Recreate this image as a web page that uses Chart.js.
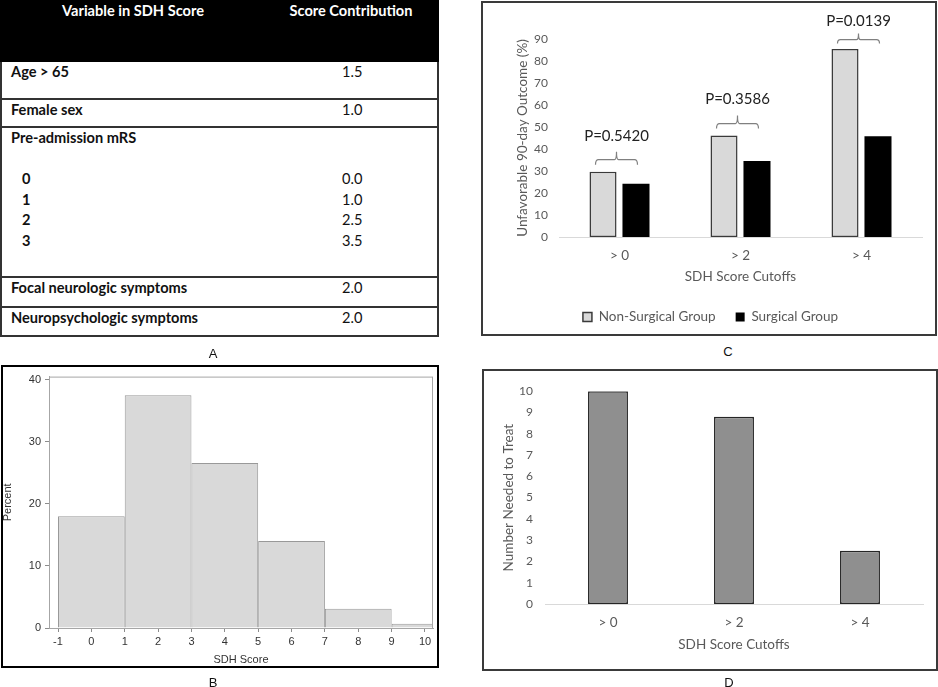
<!DOCTYPE html>
<html lang="en">
<head>
<meta charset="UTF-8">
<title>SDH Score</title>
<script src="https://cdn.jsdelivr.net/npm/chart.js"></script>
<style>
    * { margin: 0; padding: 0; box-sizing: border-box; }
    body { width: 938px; height: 687px; background: #fff; position: relative; overflow: hidden; font-family: Lato, "Open Sans", sans-serif; }
    canvas { position: absolute; }
    .caixa { position: absolute; border: 2px solid #3a3a3a; pointer-events: none; }
    .letra { position: absolute; transform: translate(-50%, -50%); font: 13px "Liberation Sans", Arial, sans-serif; color: #111; }

    /* tabela do painel A */
    #tabela { position: absolute; left: 0; top: 0; width: 439px; }
    .cab { height: 62px; background: #000; color: #fff; font-weight: bold; font-size: 14.6px; display: flex; }
    .linha { display: flex; border: 2px solid #333; border-top: none; font-size: 14.6px; color: #111; line-height: 20.5px; }
    .c1 { width: 266px; padding-left: 9px; font-weight: bold; }
    .c2 { width: 170px; text-align: center; }
    .cab .c1 { padding-left: 0; text-align: center; padding-top: 2px; }
    .cab .c2 { padding-top: 2px; }
    .sub { padding-left: 11px; }
</style>
</head>
<body>
<div id="tabela"></div>

<canvas id="histograma" width="438" height="301" style="left:0px; top:366px;"></canvas>
<canvas id="desfecho" width="450" height="332" style="left:484px; top:4px;"></canvas>
<canvas id="nnt" width="451" height="296" style="left:484px; top:372px;"></canvas>

<div class="caixa" style="left:1px; top:365px; width:438px; height:303px; border-color:#000;"></div>
<div class="caixa" style="left:481px; top:1px; width:456px; height:335px;"></div>
<div class="caixa" style="left:482px; top:369px; width:456px; height:302px;"></div>

<div class="letra" style="left:213px; top:353px;">A</div>
<div class="letra" style="left:213px; top:682px;">B</div>
<div class="letra" style="left:728px; top:351px;">C</div>
<div class="letra" style="left:729px; top:682px;">D</div>

<script>
// ---- painel A: tabela do escore
const variaveis = ['Age > 65', 'Female sex', 'Pre-admission mRS', 'Focal neurologic symptoms', 'Neuropsychologic symptoms'];
const pontos = ['1.5', '1.0', '', '2.0', '2.0'];
const mrsNiveis = ['0', '1', '2', '3'];
const mrsPontos = ['0.0', '1.0', '2.5', '3.5'];
const alturasLinha = [38, 28, 150, 30, 29];

// ---- painel B: histograma
const histCentros = [0, 2, 4, 6, 8, 10];
const histPercent = [18.0, 37.5, 26.6, 14.0, 3.1, 0.7];
const histTicksX = [-1, 0, 1, 2, 3, 4, 5, 6, 7, 8, 9, 10];
const histTicksY = [0, 10, 20, 30, 40];

// ---- painel C: desfecho desfavoravel
const cortes = ['> 0', '> 2', '> 4'];
const naoCirurgico = [29.7, 46.1, 85.5];
const cirurgico = [24.2, 34.5, 45.8];
const pValores = ['P=0.5420', 'P=0.3586', 'P=0.0139'];

// ---- painel D: numero necessario para tratar
const nntValores = [10, 8.8, 2.5];

// monta a tabela
let html = '<div class="cab"><div class="c1">Variable in SDH Score</div><div class="c2">Score Contribution</div></div>';
variaveis.forEach((v, i) => {
    let esq = v, dir = pontos[i];
    if (v === 'Pre-admission mRS') {
        esq = v + '<br>&nbsp;' + mrsNiveis.map(n => '<br><span class="sub">' + n + '</span>').join('');
        dir = '<br><br>' + mrsPontos.join('<br>');
    }
    html += `<div class="linha" style="height:${alturasLinha[i]}px;"><div class="c1">${esq}</div><div class="c2">${dir}</div></div>`;
});
document.getElementById('tabela').innerHTML = html;

const fonteC = 'Lato';
const cinza = '#595959';

// moldura cinza em volta da area do grafico (estilo SAS)
const moldura = {
    id: 'moldura',
    afterDatasetsDraw(chart) {
        const a = chart.chartArea, ctx = chart.ctx;
        ctx.save();
        ctx.strokeStyle = '#a6a6a6';
        ctx.lineWidth = 1;
        ctx.strokeRect(a.left + 0.5, a.top + 0.5, a.right - a.left - 1, a.bottom - a.top);
        ctx.restore();
    }
};

new Chart(document.getElementById('histograma'), {
    type: 'bar',
    data: {
        datasets: [{
            data: histCentros.map((x, i) => ({ x: x, y: histPercent[i] })),
            backgroundColor: '#d9d9d9',
            borderColor: '#999999',
            borderWidth: 1,
            categoryPercentage: 1,
            barPercentage: 2, // a largura minima vem do espacamento dos ticks (1), a classe tem 2
            clip: 0
        }]
    },
    options: {
        responsive: false,
        animation: false,
        devicePixelRatio: 1,
        layout: { padding: { top: 8, right: 5, left: 0, bottom: 0 } },
        plugins: { legend: { display: false }, tooltip: { enabled: false } },
        scales: {
            x: {
                type: 'linear', min: -1.27, max: 10.24, offset: false,
                afterBuildTicks: s => { s.ticks = histTicksX.map(v => ({ value: v })); },
                afterFit: s => { s.height = 39; },
                grid: { drawOnChartArea: false, drawTicks: true, tickLength: 4, color: '#8c8c8c', offset: false },
                border: { display: true, color: '#a6a6a6' },
                ticks: { padding: 3, autoSkip: false, maxRotation: 0, color: '#333', font: { family: 'Liberation Sans', size: 11 } },
                title: { display: true, text: 'SDH Score', color: '#333', padding: 0, font: { family: 'Liberation Sans', size: 11 } }
            },
            y: {
                min: 0, max: 40.5,
                afterBuildTicks: s => { s.ticks = histTicksY.map(v => ({ value: v })); },
                afterFit: s => { s.width = 49; },
                grid: { drawOnChartArea: false, drawTicks: true, tickLength: 4, color: '#8c8c8c' },
                border: { display: true, color: '#a6a6a6' },
                ticks: { padding: 4, color: '#333', font: { family: 'Liberation Sans', size: 11 } },
                title: { display: true, text: 'Percent', color: '#333', padding: { top: 1.5, bottom: 0 }, font: { family: 'Liberation Sans', size: 11 } }
            }
        }
    },
    plugins: [moldura]
});

// chaves com os valores de P acima de cada par de barras
// (quando falta espaco no topo, a chave fica mais baixa, como no original)
const chaves = {
    id: 'chaves',
    afterDatasetsDraw(chart) {
        const ctx = chart.ctx, x = chart.scales.x, y = chart.scales.y;
        const limite = chart.chartArea.top - 18;
        ctx.save();
        pValores.forEach((txt, i) => {
            const topo = y.getPixelForValue(Math.max(naoCirurgico[i], cirurgico[i]));
            const k = Math.min(1, (topo - limite) / 36);
            const cx = x.getPixelForValue(i) - 3;
            const fim = topo - 7 * k, horiz = fim - 5 * k, pico = horiz - 8 * k, meia = 21;
            ctx.strokeStyle = '#808080';
            ctx.lineWidth = 1.2;
            ctx.beginPath();
            ctx.moveTo(cx - meia, fim);
            ctx.quadraticCurveTo(cx - meia, horiz, cx - meia + 3, horiz);
            ctx.lineTo(cx - 2, horiz);
            ctx.quadraticCurveTo(cx, horiz, cx, pico);
            ctx.quadraticCurveTo(cx, horiz, cx + 2, horiz);
            ctx.lineTo(cx + meia - 3, horiz);
            ctx.quadraticCurveTo(cx + meia, horiz, cx + meia, fim);
            ctx.stroke();
            ctx.fillStyle = '#222';
            ctx.font = '15px ' + fonteC;
            ctx.textAlign = 'center';
            ctx.textBaseline = 'middle';
            ctx.fillText(txt, cx, pico - 16 * k);
        });
        ctx.restore();
    }
};

new Chart(document.getElementById('desfecho'), {
    type: 'bar',
    data: {
        labels: cortes,
        datasets: [
            { label: 'Non-Surgical Group', data: naoCirurgico, backgroundColor: '#d9d9d9', borderColor: '#3a3a3a', borderWidth: 1.5, borderSkipped: false },
            { label: 'Surgical Group', data: cirurgico, backgroundColor: '#000000', borderColor: '#000000', borderWidth: 0 }
        ]
    },
    options: {
        responsive: false,
        animation: false,
        devicePixelRatio: 1,
        categoryPercentage: 0.545,
        barPercentage: 0.82,
        layout: { padding: { top: 35, right: 12, left: 15, bottom: 2.25 } },
        plugins: {
            tooltip: { enabled: false },
            legend: {
                position: 'bottom',
                labels: { boxWidth: 9, boxHeight: 9, padding: 20, color: cinza, font: { family: fonteC, size: 13.5 } }
            }
        },
        scales: {
            x: {
                afterFit: s => { s.height = 53.25; },
                grid: { display: false, drawTicks: false },
                border: { display: true, color: '#d9d9d9' },
                ticks: { padding: 10.9, color: cinza, font: { family: fonteC, size: 13.5 } },
                title: { display: true, text: 'SDH Score Cutoffs', color: cinza, padding: { top: 0, bottom: 5.15 }, font: { family: fonteC, size: 13.5 } }
            },
            y: {
                min: 0, max: 90,
                afterFit: s => { s.width = 60; },
                grid: { display: false, drawTicks: false },
                border: { display: false },
                ticks: { stepSize: 10, padding: 11, color: cinza, font: { family: fonteC, size: 12 } },
                title: { display: true, text: 'Unfavorable 90-day Outcome (%)', color: cinza, padding: { top: 15.9, bottom: 0 }, font: { family: fonteC, size: 13.5 } }
            }
        }
    },
    plugins: [chaves]
});

new Chart(document.getElementById('nnt'), {
    type: 'bar',
    data: {
        labels: cortes,
        datasets: [{ label: 'NNT', data: nntValores, backgroundColor: '#8f8f8f', borderColor: '#262626', borderWidth: 1.5, borderSkipped: false }]
    },
    options: {
        responsive: false,
        animation: false,
        devicePixelRatio: 1,
        categoryPercentage: 1,
        barPercentage: 0.317,
        layout: { padding: { top: 13, right: 12, left: 0, bottom: 14.9 } },
        plugins: { legend: { display: false }, tooltip: { enabled: false } },
        scales: {
            x: {
                afterFit: s => { s.height = 49.1; },
                grid: { display: false, drawTicks: false },
                border: { display: true, color: '#d9d9d9' },
                ticks: { padding: 10.9, color: cinza, font: { family: fonteC, size: 13.5 } },
                title: { display: true, text: 'SDH Score Cutoffs', color: cinza, padding: 0, font: { family: fonteC, size: 13.5 } }
            },
            y: {
                min: 0, max: 10,
                afterFit: s => { s.width = 61; },
                grid: { display: false, drawTicks: false },
                border: { display: false },
                ticks: { stepSize: 1, padding: 12, color: cinza, font: { family: fonteC, size: 12 } },
                title: { display: true, text: 'Number Needed to Treat', color: cinza, padding: { top: 16.9, bottom: 0 }, font: { family: fonteC, size: 13.5 } }
            }
        }
    }
});
</script>
</body>
</html>
